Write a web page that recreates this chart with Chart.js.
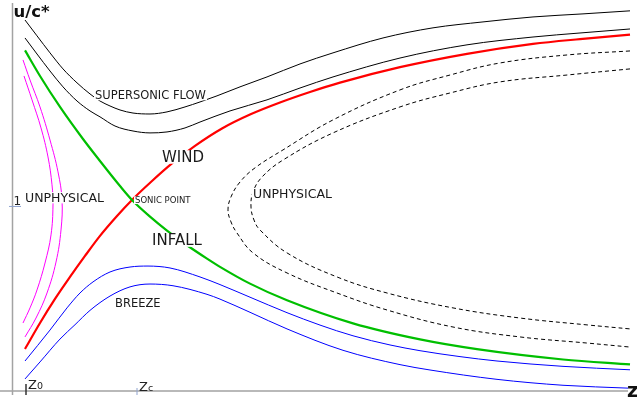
<!DOCTYPE html>
<html>
<head>
<meta charset="utf-8">
<title>Transonic flow topology</title>
<script src="https://cdn.jsdelivr.net/npm/chart.js@4.4.1/dist/chart.umd.min.js"></script>
<style>
  html, body { margin: 0; padding: 0; background: #fff; }
  #wrap { width: 637px; height: 400px; }
</style>
</head>
<body>
<div id="wrap"><canvas id="flow" width="637" height="400"></canvas></div>
<script>
// Solution curves, [z, u/c*] pairs (zc = 1, sonic speed = 1)
const supersonicOuter = [[0.104,1.942],[0.2,1.859],[0.304,1.770],[0.408,1.686],[0.52,1.613],[0.624,1.555],[0.704,1.518],
  [0.784,1.492],[0.864,1.471],[0.968,1.455],[1.104,1.450],[1.24,1.461],[1.384,1.487],[1.504,1.513],[1.64,1.545],
  [1.824,1.592],[2.04,1.644],[2.304,1.712],[2.568,1.770],[2.968,1.848],[3.368,1.901],[3.768,1.932],[4.168,1.958],
  [4.568,1.974],[4.944,1.990]];
const supersonicInner = [[0.104,1.848],[0.2,1.764],[0.304,1.675],[0.408,1.592],[0.52,1.518],[0.624,1.466],[0.704,1.435],
  [0.824,1.387],[0.968,1.361],[1.104,1.351],[1.24,1.356],[1.384,1.377],[1.504,1.408],[1.744,1.466],[2.04,1.524],
  [2.304,1.586],[2.568,1.644],[3.104,1.743],[3.64,1.812],[4.168,1.853],[4.544,1.874],[4.944,1.895]];
const windCurve = [[0.104,0.220],[0.224,0.356],[0.344,0.482],[0.464,0.597],[0.584,0.707],[0.704,0.812],[0.84,0.916],
  [0.96,1.0],[1.12,1.099],[1.28,1.191],[1.464,1.283],[1.68,1.374],[1.904,1.447],[2.144,1.510],[2.384,1.565],
  [2.624,1.614],[3.104,1.695],[3.64,1.765],[4.168,1.817],[4.544,1.842],[4.944,1.865]];
const infallCurve = [[0.104,1.783],[0.224,1.649],[0.384,1.487],[0.568,1.319],[0.704,1.204],[0.864,1.073],[0.96,1.0],
  [1.104,0.913],[1.24,0.840],[1.4,0.763],[1.56,0.693],[1.664,0.650],[1.904,0.562],[2.2,0.475],[2.728,0.354],
  [3.264,0.270],[3.72,0.219],[4.408,0.165],[4.944,0.139]];
const breezeUpper = [[0.104,0.157],[0.304,0.319],[0.44,0.435],[0.544,0.513],[0.648,0.571],[0.784,0.623],[0.944,0.649],
  [1.088,0.654],[1.264,0.644],[1.504,0.597],[1.664,0.557],[1.904,0.491],[2.2,0.410],[2.464,0.345],[2.728,0.289],
  [3.024,0.241],[3.264,0.211],[3.584,0.180],[3.88,0.157],[4.408,0.129],[4.944,0.111]];
const breezeLower = [[0.104,0.063],[0.224,0.152],[0.384,0.272],[0.504,0.347],[0.624,0.422],[0.784,0.497],[0.944,0.545],
  [1.104,0.560],[1.288,0.551],[1.56,0.506],[1.664,0.481],[1.904,0.412],[2.2,0.325],[2.648,0.213],[3.104,0.138],
  [3.344,0.110],[3.88,0.061],[4.408,0.030],[4.928,0.015]];
const unphysLeftOuter = [[0.088,1.733],[0.144,1.628],[0.224,1.487],[0.304,1.314],[0.368,1.147],[0.4,1.0],[0.392,0.843],
  [0.352,0.675],[0.28,0.513],[0.192,0.382],[0.104,0.283]];
const unphysLeftInner = [[0.096,1.649],[0.16,1.524],[0.232,1.377],[0.288,1.225],[0.32,1.079],[0.328,0.974],[0.312,0.817],
  [0.264,0.670],[0.2,0.529],[0.144,0.435],[0.088,0.356]];
const unphysRightOuter = [[4.944,1.780],[4.44,1.759],[3.904,1.717],[3.504,1.654],[3.104,1.576],[2.568,1.419],[2.168,1.262],
  [1.944,1.168],[1.824,1.094],[1.752,1.016],[1.728,0.948],[1.752,0.885],[1.8,0.827],[1.928,0.723],[2.2,0.618],
  [2.6,0.513],[3.0,0.424],[3.528,0.335],[4.064,0.283],[4.6,0.251],[4.944,0.230]];
const unphysRightInner = [[4.944,1.686],[4.44,1.654],[3.904,1.618],[3.504,1.560],[3.104,1.487],[2.568,1.351],[2.168,1.209],
  [2.0,1.120],[1.928,1.042],[1.912,0.963],[1.936,0.895],[1.984,0.843],[2.2,0.723],[2.6,0.597],[3.0,0.513],
  [3.528,0.435],[4.064,0.382],[4.6,0.346],[4.944,0.325]];

// Region labels and where they sit (left edge, baseline) in data units
const regionLabels = ['SUPERSONIC FLOW', 'WIND', 'INFALL', 'SONIC POINT', 'UNPHYSICAL', 'UNPHYSICAL', 'BREEZE'];
const labelZ = [0.664, 1.2, 1.12, 0.984, 0.104, 1.928, 0.824];
const labelU = [1.529, 1.199, 0.764, 0.984, 0.990, 1.010, 0.440];

// Axis marks
const uTicks = [1];
const zTickValues = [0.112, 1.0];
const zTickSubs = ['0', 'c'];

const FONT = '"DejaVu Sans", "Liberation Sans", sans-serif';
const labelSizes = [11.5, 15, 15, 8.5, 12.5, 12.5, 11.5];

function toPoints(pairs) {
    return pairs.map(p => ({ x: p[0], y: p[1] }));
}

// monotone = curve is a function of z; the closed-ish loops use a plain spline
function curve(pairs, color, width, opts) {
    opts = opts || {};
    return {
        data: toPoints(pairs),
        showLine: true,
        borderColor: color,
        borderWidth: width,
        borderDash: opts.dash || [],
        pointRadius: 0,
        tension: 0.4,
        cubicInterpolationMode: opts.loop ? 'default' : 'monotone',
        fill: false
    };
}

// Axes, ticks and text are drawn by hand on top of the hidden scales
const sketchPlugin = {
    id: 'sketch',
    beforeDatasetsDraw(chart) {
        const { ctx, chartArea, scales } = chart;
        const x0 = scales.x.getPixelForValue(0);
        const y0 = scales.y.getPixelForValue(0);
        ctx.save();
        ctx.strokeStyle = '#a3a3a3';
        ctx.lineWidth = 1.5;
        ctx.beginPath();
        ctx.moveTo(0, y0);
        ctx.lineTo(chartArea.right - 4, y0);
        ctx.moveTo(x0 + 0.5, chartArea.top);
        ctx.lineTo(x0 + 0.5, y0 + 4);
        ctx.stroke();

        // u ticks
        ctx.strokeStyle = '#8fa3cf';
        ctx.lineWidth = 1;
        ctx.fillStyle = '#222';
        ctx.font = '12px ' + FONT;
        uTicks.forEach(v => {
            const py = scales.y.getPixelForValue(v);
            ctx.beginPath();
            ctx.moveTo(x0 - 3, py + 6.5);
            ctx.lineTo(x0 + 9, py + 6.5);
            ctx.stroke();
            ctx.fillText(String(v), x0 + 1.5, py + 5);
        });

        // z ticks with subscripts
        zTickValues.forEach((v, i) => {
            const px = scales.x.getPixelForValue(v);
            ctx.strokeStyle = i === 0 ? '#333' : '#8fa3cf';
            ctx.lineWidth = i === 0 ? 1.5 : 1;
            ctx.beginPath();
            ctx.moveTo(px, y0 - (i === 0 ? 7 : 3));
            ctx.lineTo(px, y0 + 4);
            ctx.stroke();
            const base = y0 - (i === 0 ? 2 : 0);
            ctx.fillStyle = '#222';
            ctx.font = '13px ' + FONT;
            ctx.fillText('Z', px + 2, base);
            const w = ctx.measureText('Z').width;
            ctx.font = '9.5px ' + FONT;
            ctx.fillText(zTickSubs[i], px + 2 + w, base);
        });

        // axis titles
        ctx.font = 'bold 16.5px ' + FONT;
        ctx.fillStyle = '#111';
        ctx.fillText('u/c*', x0 + 1.5, chartArea.top + 14);
        ctx.font = 'bold 19px ' + FONT;
        ctx.fillText('z', chartArea.right - 5, y0 + 6);
        ctx.restore();
    },
    afterDatasetsDraw(chart) {
        const { ctx, scales } = chart;
        ctx.save();
        regionLabels.forEach((text, i) => {
            const px = scales.x.getPixelForValue(labelZ[i]);
            const py = scales.y.getPixelForValue(labelU[i]);
            const size = labelSizes[i];
            ctx.font = size + 'px ' + FONT;
            const w = ctx.measureText(text).width;
            ctx.fillStyle = '#fff';
            ctx.fillRect(px - 1, py - size * 0.78, w + 2, size * 0.9);
            ctx.fillStyle = '#1a1a1a';
            ctx.fillText(text, px, py);
        });
        ctx.restore();
    }
};

new Chart(document.getElementById('flow').getContext('2d'), {
    type: 'scatter',
    data: {
        datasets: [
            curve(supersonicOuter, '#000', 1),
            curve(supersonicInner, '#000', 1),
            curve(unphysLeftOuter, '#ff00ff', 1, { loop: true }),
            curve(unphysLeftInner, '#ff00ff', 1, { loop: true }),
            curve(unphysRightOuter, '#000', 1, { loop: true, dash: [4, 3] }),
            curve(unphysRightInner, '#000', 1, { loop: true, dash: [4, 3] }),
            curve(breezeUpper, '#0000ff', 1),
            curve(breezeLower, '#0000ff', 1),
            curve(infallCurve, '#00bf00', 2.2),
            curve(windCurve, '#ff0000', 2.2)
        ]
    },
    options: {
        responsive: false,
        animation: false,
        layout: { padding: { left: 12, right: 5, top: 3, bottom: 9 } },
        plugins: { legend: { display: false }, tooltip: { enabled: false } },
        scales: {
            x: { type: 'linear', min: 0, max: 4.96, display: false },
            y: { type: 'linear', min: 0, max: 2.031, display: false }
        }
    },
    plugins: [sketchPlugin]
});
</script>
</body>
</html>
